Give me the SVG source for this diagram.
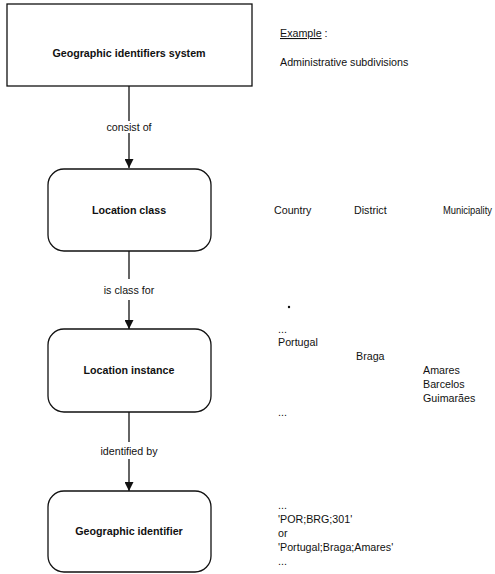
<svg xmlns="http://www.w3.org/2000/svg" width="495" height="574" viewBox="0 0 495 574">
<style>
text{font-family:"Liberation Sans",Arial,sans-serif;font-size:10.7px;fill:#111}
.b{font-weight:bold;text-anchor:middle}
.m{text-anchor:middle}
.box{fill:#fff;stroke:#111;stroke-width:1.3}
.ln{stroke:#111;stroke-width:1.3;fill:none}
</style>
<defs>
<marker id="ah" markerWidth="10" markerHeight="9" refX="9" refY="4.5" orient="auto" markerUnits="userSpaceOnUse">
<path d="M0,0 L9,4.5 L0,9 Z" fill="#111"/>
</marker>
</defs>
<rect width="495" height="574" fill="#fff"/>
<g id="connectors">
<line class="ln" x1="129" y1="86" x2="129" y2="121"/>
<line class="ln" x1="129" y1="133" x2="129" y2="168" marker-end="url(#ah)"/>
<text class="m" x="129" y="131">consist of</text>
<line class="ln" x1="129" y1="251" x2="129" y2="279"/>
<line class="ln" x1="129" y1="300" x2="129" y2="329" marker-end="url(#ah)"/>
<text class="m" x="129" y="294">is class for</text>
<line class="ln" x1="129" y1="412" x2="129" y2="442"/>
<line class="ln" x1="129" y1="459" x2="129" y2="491" marker-end="url(#ah)"/>
<text class="m" x="129" y="455">identified by</text>
</g>
<g id="system">
<rect class="box" x="7" y="4" width="245" height="82"/>
<text class="b" x="129" y="57">Geographic identifiers system</text>
</g>
<g id="location-class">
<rect class="box" x="48" y="169" width="163" height="82" rx="16" ry="16"/>
<text class="b" x="129" y="214">Location class</text>
</g>
<g id="location-instance">
<rect class="box" x="48" y="329" width="163" height="83" rx="16" ry="16"/>
<text class="b" x="129" y="374">Location instance</text>
</g>
<g id="geographic-identifier">
<rect class="box" x="48" y="491" width="163" height="81" rx="16" ry="16"/>
<text class="b" x="129" y="535">Geographic identifier</text>
</g>
<g id="example">
<text x="280" y="37"><tspan text-decoration="underline">Example</tspan> :</text>
<text x="280" y="66">Administrative subdivisions</text>
<text x="274" y="214">Country</text>
<text x="354" y="214">District</text>
<text x="443" y="214" style="font-size:10px" textLength="49" lengthAdjust="spacingAndGlyphs">Municipality</text>
<circle cx="289" cy="307" r="1.2" fill="#111"/>
<text x="278" y="333">...</text>
<text x="278" y="346">Portugal</text>
<text x="356" y="360">Braga</text>
<text x="423" y="374">Amares</text>
<text x="423" y="388">Barcelos</text>
<text x="423" y="402">Guimarães</text>
<text x="278" y="416">...</text>
<text x="278" y="509">...</text>
<text x="278" y="523">'POR;BRG;301'</text>
<text x="278" y="537">or</text>
<text x="278" y="551">'Portugal;Braga;Amares'</text>
<text x="278" y="565">...</text>
</g>
</svg>
